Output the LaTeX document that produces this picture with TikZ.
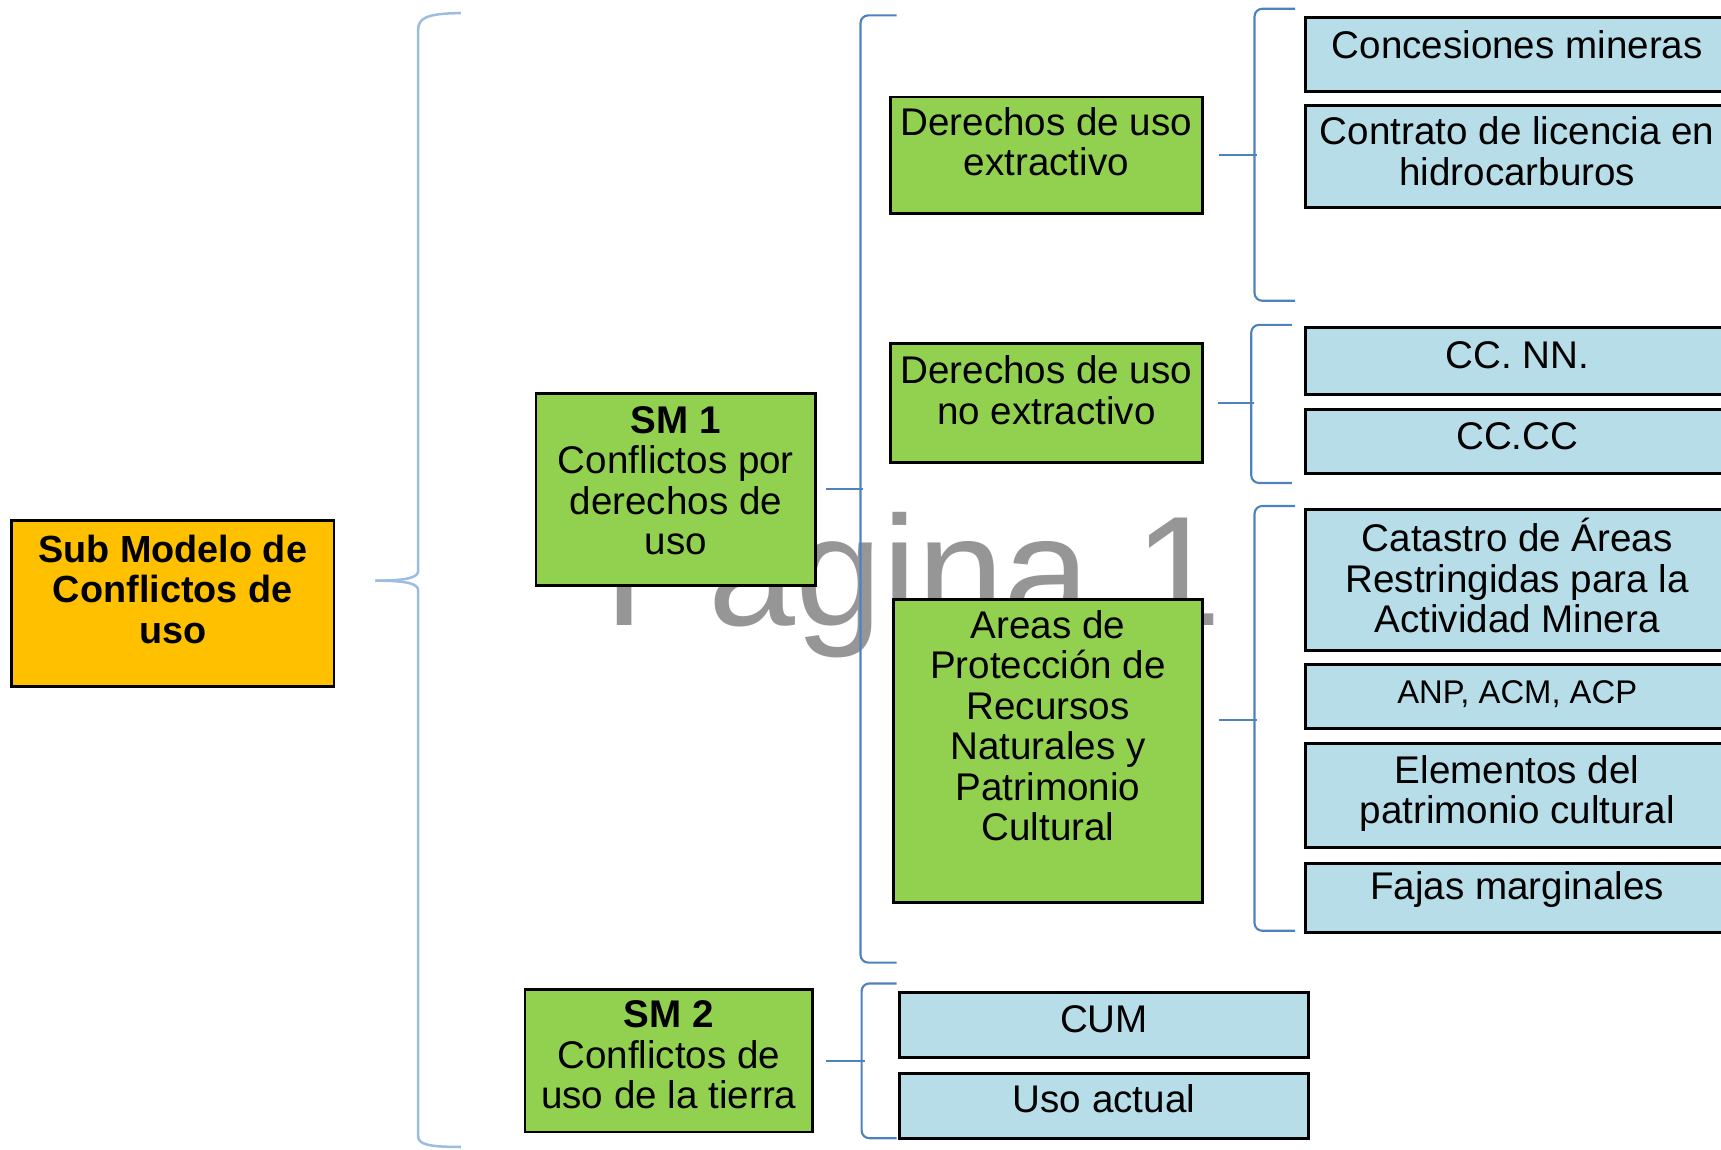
\documentclass[tikz,border=0pt]{standalone}
\usepackage{fontspec}
\setmainfont{Liberation Sans}
\usetikzlibrary{positioning}
\definecolor{verde}{HTML}{92D050}
\definecolor{naranja}{HTML}{FFC000}
\definecolor{celeste}{HTML}{B7DEE8}
\definecolor{azul}{HTML}{4F81BD}
\definecolor{azulclaro}{HTML}{9DBCE2}
\definecolor{marca}{HTML}{969696}

\begin{document}
\begin{tikzpicture}[
    box/.style={draw=black, line width=0.75pt, anchor=north west},
    verdebox/.style={box, fill=verde},
    celestebox/.style={box, fill=celeste, minimum width=3.86cm},
    texto/.style={align=center, inner sep=0pt, font=\fontsize{10}{10.5}\selectfont},
    llave/.style={draw=azul, line width=0.55pt, rounded corners=2pt}
]
    \useasboundingbox (0,0) rectangle (15.68,-10.47);
    \clip (0,0) rectangle (15.68,-10.47);

    % marca de agua
    \node[anchor=base west, inner sep=0, text=marca, font=\fontsize{40.5}{40.5}\selectfont] (pagina) at (5.50,-5.70) {Pagina 1};

    % modelo
    \node[box, fill=naranja, minimum width=2.94cm, minimum height=1.51cm] (sub) at (0.09,-4.73) {};
    \node[texto, font=\fontsize{9.8}{10.5}\selectfont\bfseries] (subt) at ([yshift=0.13cm]sub.center) {Sub Modelo de\\Conflictos de\\uso};

    % submodelos
    \node[verdebox, minimum width=2.55cm, minimum height=1.75cm] (sm1) at (4.87,-3.57) {};
    \node[texto] (sm1t) at ([yshift=0.08cm]sm1.center) {\textbf{SM 1}\\Conflictos por\\derechos de\\uso};
    \node[verdebox, minimum width=2.62cm, minimum height=1.30cm] (sm2) at (4.77,-9.00) {};
    \node[texto] (sm2t) at ([yshift=0.05cm]sm2.center) {\textbf{SM 2}\\Conflictos de\\uso de la tierra};

    % derechos y areas
    \node[verdebox, minimum width=2.84cm, minimum height=1.06cm] (dext) at (8.10,-0.87) {};
    \node[texto] (dextt) at ([yshift=0.12cm]dext.center) {Derechos de uso\\extractivo};
    \node[verdebox, minimum width=2.84cm, minimum height=1.08cm] (dnoext) at (8.10,-3.12) {};
    \node[texto] (dnoextt) at ([yshift=0.12cm]dnoext.center) {Derechos de uso\\no extractivo};
    \node[verdebox, minimum width=2.81cm, minimum height=2.76cm] (apr) at (8.13,-5.45) {};
    \node[texto] (aprt) at ([yshift=0.23cm]apr.center) {Areas de\\Protección de\\Recursos\\Naturales y\\Patrimonio\\Cultural};

    % capas
    \node[celestebox, minimum height=0.67cm] (conc) at (11.88,-0.15) {};
    \node[texto] (conct) at ([yshift=0.09cm]conc.center) {Concesiones mineras};
    \node[celestebox, minimum height=0.93cm] (contr) at (11.88,-0.95) {};
    \node[texto] (contrt) at ([yshift=0.05cm]contr.center) {Contrato de licencia en\\hidrocarburos};
    \node[celestebox, minimum height=0.61cm] (ccnn) at (11.88,-2.97) {};
    \node[texto] (ccnnt) at ([yshift=0.05cm]ccnn.center) {CC. NN.};
    \node[celestebox, minimum height=0.58cm] (cccc) at (11.88,-3.72) {};
    \node[texto] (cccct) at ([yshift=0.05cm]cccc.center) {CC.CC};
    \node[celestebox, minimum height=1.28cm] (cat) at (11.88,-4.63) {};
    \node[texto] (catt) at ([yshift=0.04cm]cat.center) {Catastro de Áreas\\Restringidas para la\\Actividad Minera};
    \node[celestebox, minimum height=0.58cm] (anp) at (11.88,-6.04) {};
    \node[texto, font=\fontsize{8.5}{10}\selectfont] (anpt) at ([yshift=0.02cm]anp.center) {ANP, ACM, ACP};
    \node[celestebox, minimum height=0.95cm] (elem) at (11.88,-6.76) {};
    \node[texto] (elemt) at ([yshift=0.02cm]elem.center) {Elementos del\\patrimonio cultural};
    \node[celestebox, minimum height=0.63cm] (fajas) at (11.88,-7.85) {};
    \node[texto] (fajast) at ([yshift=0.07cm]fajas.center) {Fajas marginales};
    \node[celestebox, minimum width=3.73cm, minimum height=0.59cm] (cum) at (8.18,-9.03) {};
    \node[texto] (cumt) at ([yshift=0.05cm]cum.center) {CUM};
    \node[celestebox, minimum width=3.73cm, minimum height=0.59cm] (usoact) at (8.18,-9.77) {};
    \node[texto] (usoactt) at ([yshift=0.07cm]usoact.center) {Uso actual};

    % llave principal
    \draw[azulclaro, line width=0.65pt] (4.20,-0.12) .. controls (3.88,-0.12) and (3.81,-0.17) .. (3.81,-0.27)
        -- (3.81,-5.20) .. controls (3.81,-5.26) and (3.72,-5.29) .. (3.42,-5.29);
    \draw[azulclaro, line width=0.65pt] (3.42,-5.29) .. controls (3.72,-5.29) and (3.81,-5.32) .. (3.81,-5.38)
        -- (3.81,-10.35) .. controls (3.81,-10.42) and (3.88,-10.45) .. (4.20,-10.45);

    % llaves
    \draw[llave] (8.17,-0.14) -| (7.84,-8.77) -- (8.17,-8.77);
    \draw[llave] ([xshift=0.08cm]sm1.east) -- ++(0.34,0);
    \draw[llave] (8.17,-8.96) -| (7.85,-10.37) -- (8.17,-10.37);
    \draw[llave] ([xshift=0.11cm]sm2.east) -- ++(0.35,0);
    \draw[llave] (11.80,-0.08) -| (11.43,-2.74) -- (11.80,-2.74);
    \draw[llave] ([xshift=0.14cm]dext.east) -- ++(0.35,0);
    \draw[llave] (11.77,-2.96) -| (11.40,-4.40) -- (11.77,-4.40);
    \draw[llave] ([xshift=0.13cm]dnoext.east) -- ++(0.33,0);
    \draw[llave] (11.80,-4.61) -| (11.43,-8.48) -- (11.80,-8.48);
    \draw[llave] ([shift={(0.14,0.28)}]apr.east) -- ++(0.35,0);

\end{tikzpicture}
\end{document}
